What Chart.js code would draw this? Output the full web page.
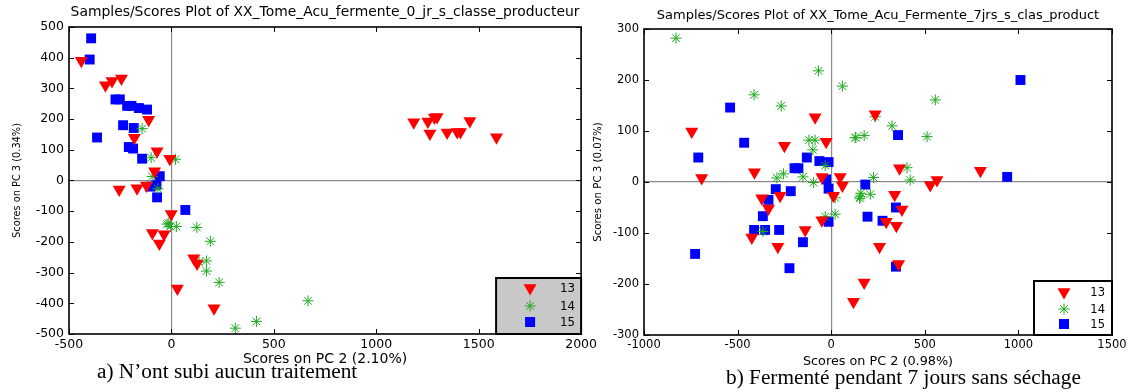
<!DOCTYPE html>
<html><head><meta charset="utf-8">
<script src="https://cdn.jsdelivr.net/npm/chart.js@4.4.1/dist/chart.umd.min.js"></script>
<style>
html,body{margin:0;padding:0;background:#fff;width:1131px;height:392px;overflow:hidden;position:relative}
#c1{position:absolute;left:0;top:0}
#c2{position:absolute;left:580px;top:0}
.cap{position:absolute;font-family:'Liberation Serif','Times New Roman',serif;font-size:21.3px;color:#000;white-space:nowrap;line-height:1}
</style></head><body>
<canvas id="c1" width="600" height="392"></canvas>
<canvas id="c2" width="551" height="392"></canvas>
<div class="cap" style="left:97px;top:361px">a) N’ont subi aucun traitement</div>
<div class="cap" style="left:726px;top:367px">b) Fermenté pendant 7 jours sans séchage</div>
<script>
// ---------- DATA ----------
const seriesLabels = ['13', '14', '15'];

// Left plot: fermente_0_jr
const titleA = 'Samples/Scores Plot of XX_Tome_Acu_fermente_0_jr_s_classe_producteur';
const xTitleA = 'Scores on PC 2 (2.10%)';
const yTitleA = 'Scores on PC 3 (0.34%)';
const xTicksA = [-500, 0, 500, 1000, 1500, 2000];
const yTicksA = [-500, -400, -300, -200, -100, 0, 100, 200, 300, 400, 500];

const a13x = [-440,-322,-290,-244,-111,-181,-70,-8,-82,-255,-168,-122,-1,-93,-36,-59,109,125,29,208,1183,1252,1284,1297,1262,1346,1395,1411,1457,1587];
const a13y = [390,310,324,332,198,139,95,71,30,-29,-25,-16,-109,-171,-175,-205,-253,-270,-352,-416,190,192,205,207,153,156,158,158,194,141];
const a14x = [-143,-99,20,-94,-66,-13,-5,24,124,190,135,171,171,233,667,415,312,-21];
const a14y = [169,74,69,13,-27,-139,-150,-150,-153,-198,-266,-262,-295,-332,-392,-459,-481,-142];
const a15x = [-392,-399,-273,-252,-216,-195,-159,-119,-236,-184,-363,-208,-187,-143,-57,-103,-73,-70,68];
const a15y = [463,394,264,264,243,243,236,231,180,171,140,109,104,71,14,-20,-14,-55,-96];

// Right plot: Fermente_7jrs
const titleB = 'Samples/Scores Plot of XX_Tome_Acu_Fermente_7jrs_s_clas_product';
const xTitleB = 'Scores on PC 2 (0.98%)';
const yTitleB = 'Scores on PC 3 (0.07%)';
const xTicksB = [-1000, -500, 0, 500, 1000, 1500];
const yTicksB = [-300, -200, -100, 0, 100, 200, 300];

const b13x = [-745,-692,-410,-250,-86,-27,-50,48,60,12,-371,-273,-335,-424,-285,-139,-50,119,176,258,360,294,348,378,339,235,365,797,529,565];
const b13y = [99,8,19,71,127,79,10,10,-7,-27,-32,-27,-52,-109,-127,-94,-75,-235,-197,-127,-161,-78,-86,-54,-25,133,27,22,-6,4];
const b14x = [-829,-412,-267,-68,60,132,-119,-86,-98,-32,-255,-290,-151,-95,21,21,-32,155,235,556,325,128,176,512,405,422,226,159,209,152,-365];
const b14y = [282,171,149,218,188,87,82,82,63,32,16,8,10,-1,-31,-63,-68,-29,128,161,110,87,91,89,28,4,9,-22,-24,-32,-97];
const b15x = [-710,-540,-465,-196,-175,-130,-63,-14,-27,-14,-296,-216,-335,-365,-412,-353,-278,-151,-223,-727,-14,1011,357,940,182,346,194,274,346];
const b15y = [48,146,77,27,27,48,41,39,5,-13,-14,-18,-35,-67,-94,-94,-94,-118,-169,-141,-78,200,92,10,-5,-50,-68,-76,-166];

// ---------- STYLE ----------
const FONT = "'DejaVu Sans', Arial, sans-serif";
const RED = '#ff0000', GREEN = '#1eaa1e', BLUE = '#0000ff';

function pts(xs, ys) { return xs.map((v, i) => ({x: v, y: ys[i]})); }

function datasets(x13, y13, x14, y14, x15, y15) {
  return [
    {label: seriesLabels[0], data: pts(x13, y13), pointStyle: 'triangle', rotation: 180, radius: 7.5,
     backgroundColor: RED, borderColor: RED, borderWidth: 0},
    {label: seriesLabels[1], data: pts(x14, y14), pointStyle: 'star', radius: 5.5,
     backgroundColor: GREEN, borderColor: GREEN, borderWidth: 1},
    {label: seriesLabels[2], data: pts(x15, y15), pointStyle: 'rect', radius: 7,
     backgroundColor: BLUE, borderColor: BLUE, borderWidth: 0}
  ];
}

function drawMarker(ctx, style, x, y) {
  ctx.save();
  if (style === 0) {
    const r = 7.5;
    ctx.fillStyle = RED;
    ctx.beginPath();
    ctx.moveTo(x, y + r);
    ctx.lineTo(x - 0.866 * r, y - 0.5 * r);
    ctx.lineTo(x + 0.866 * r, y - 0.5 * r);
    ctx.closePath(); ctx.fill();
  } else if (style === 1) {
    const r = 5.5;
    ctx.strokeStyle = GREEN; ctx.lineWidth = 1;
    ctx.beginPath();
    for (let k = 0; k < 4; k++) {
      const a = k * Math.PI / 4;
      ctx.moveTo(x - Math.cos(a) * r, y - Math.sin(a) * r);
      ctx.lineTo(x + Math.cos(a) * r, y + Math.sin(a) * r);
    }
    ctx.stroke();
  } else {
    ctx.fillStyle = BLUE;
    ctx.fillRect(x - 5, y - 5, 10, 10);
  }
  ctx.restore();
}

function framePlugin(leg) {
  return {
    id: 'frame',
    afterDatasetsDraw(chart) {
      const {ctx, chartArea: a, scales: {x, y}} = chart;
      ctx.save();
      ctx.strokeStyle = '#000';
      ctx.lineWidth = 1;
      ctx.beginPath();
      x.ticks.forEach(t => {
        const px = Math.round(x.getPixelForValue(t.value)) + 0.5;
        ctx.moveTo(px, a.bottom); ctx.lineTo(px, a.bottom - 5);
        ctx.moveTo(px, a.top); ctx.lineTo(px, a.top + 5);
      });
      y.ticks.forEach(t => {
        const py = Math.round(y.getPixelForValue(t.value)) + 0.5;
        ctx.moveTo(a.left, py); ctx.lineTo(a.left + 5, py);
        ctx.moveTo(a.right, py); ctx.lineTo(a.right - 5, py);
      });
      ctx.stroke();
      ctx.lineWidth = 1.6;
      ctx.strokeRect(a.left, a.top, a.right - a.left, a.bottom - a.top);
      // legend box
      const bx = a.right - leg.w, by = a.bottom - leg.h;
      ctx.fillStyle = leg.fill;
      ctx.fillRect(bx, by, leg.w, leg.h);
      ctx.lineWidth = 2;
      ctx.strokeRect(bx, by, leg.w, leg.h);
      ctx.font = leg.fs + 'px ' + FONT;
      ctx.fillStyle = '#000';
      ctx.textAlign = 'right';
      ctx.textBaseline = 'middle';
      leg.rows.forEach((ry, i) => {
        drawMarker(ctx, i, bx + leg.mx, by + ry);
        ctx.fillText(seriesLabels[i], a.right - leg.tr, by + ry + 1);
      });
      ctx.restore();
    }
  };
}

function makeChart(id, cfg) {
  const gridColor = c => (c.tick && c.tick.value === 0) ? '#8a8a8a' : 'rgba(0,0,0,0)';
  return new Chart(document.getElementById(id), {
    type: 'scatter',
    data: {datasets: cfg.datasets},
    options: {
      responsive: false,
      animation: false,
      events: [],
      layout: {padding: cfg.pad},
      plugins: {
        legend: {display: false},
        tooltip: {enabled: false},
        title: {display: true, text: cfg.title, color: '#000', fullSize: false,
                font: {family: FONT, size: cfg.fs.title, weight: 'normal'},
                padding: cfg.titlePad}
      },
      scales: {
        x: {
          type: 'linear', min: cfg.xTicks[0], max: cfg.xTicks[cfg.xTicks.length - 1],
          afterBuildTicks: s => { s.ticks = cfg.xTicks.map(v => ({value: v})); },
          afterFit: s => { s.height = 34; },
          ticks: {color: '#000', font: {family: FONT, size: cfg.fs.tick}, padding: 3, maxRotation: 0, autoSkip: false,
                  callback: v => String(v)},
          grid: {drawTicks: false, color: gridColor, lineWidth: 1.2},
          border: {display: false},
          title: {display: true, text: cfg.xTitle, color: '#000', font: {family: FONT, size: cfg.fs.xt}, padding: {top: 0, bottom: 0}}
        },
        y: {
          type: 'linear', min: cfg.yTicks[0], max: cfg.yTicks[cfg.yTicks.length - 1],
          afterBuildTicks: s => { s.ticks = cfg.yTicks.map(v => ({value: v})); },
          afterFit: s => { s.width = cfg.yW; },
          ticks: {color: '#000', font: {family: FONT, size: cfg.fs.tick}, padding: 5, autoSkip: false,
                  callback: v => String(v)},
          grid: {drawTicks: false, color: gridColor, lineWidth: 1.2},
          border: {display: false},
          title: {display: true, text: cfg.yTitle, color: '#000', font: {family: FONT, size: cfg.fs.yt}, padding: {top: 4, bottom: 0}}
        }
      }
    },
    plugins: [framePlugin(cfg.legend)]
  });
}

makeChart('c1', {
  datasets: datasets(a13x, a13y, a14x, a14y, a15x, a15y),
  title: titleA, xTitle: xTitleA, yTitle: yTitleA, xTicks: xTicksA, yTicks: yTicksA,
  pad: {left: 8, right: 18, top: 0, bottom: 24}, yW: 61,
  fs: {title: 13.9, tick: 12.5, xt: 14, yt: 9.8},
  titlePad: {top: 4.5, bottom: 5.8},
  legend: {w: 85, h: 56, fill: '#c8c8c8', mx: 34, tr: 6, rows: [10, 28, 44], fs: 11.8}
});

makeChart('c2', {
  datasets: datasets(b13x, b13y, b14x, b14y, b15x, b15y),
  title: titleB, xTitle: xTitleB, yTitle: yTitleB, xTicks: xTicksB, yTicks: yTicksB,
  pad: {left: 8, right: 19, top: 0, bottom: 23}, yW: 56,
  fs: {title: 13, tick: 11.5, xt: 12.8, yt: 10.2},
  titlePad: {top: 8.2, bottom: 5.2},
  legend: {w: 78, h: 54, fill: '#ffffff', mx: 30, tr: 7, rows: [11, 28, 43], fs: 11.5}
});
</script>
</body></html>
